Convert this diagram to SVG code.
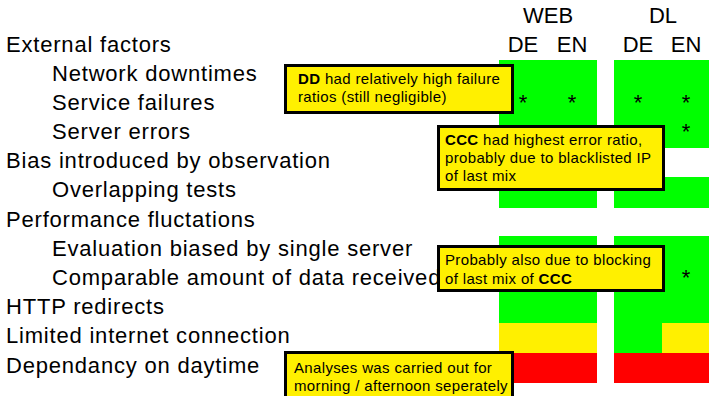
<svg xmlns="http://www.w3.org/2000/svg" width="709" height="396" viewBox="0 0 709 396">
  <style>
    .lbl { font-family: "Liberation Sans", Arial, sans-serif; font-size: 22px; fill: #000; letter-spacing: 0.8px; }
    .hdr { font-family: "Liberation Sans", Arial, sans-serif; font-size: 22px; fill: #000; text-anchor: middle; }
    .star { font-family: "Liberation Sans", Arial, sans-serif; font-size: 22px; fill: #000; text-anchor: middle; }
    .ok { fill: #00ff00; }
    .warn { fill: #fff000; }
    .bad { fill: #ff0000; }
    .note rect { fill: #fff000; stroke: #000; stroke-width: 3; }
    .note text { font-family: "Liberation Sans", Arial, sans-serif; font-size: 15px; fill: #000; letter-spacing: 0.35px; }
    .b { font-weight: bold; }
  </style>

  <rect width="709" height="396" fill="#fff"/>

  <!-- row labels -->
  <g id="labels" class="lbl">
    <text x="6" y="52">External factors</text>
    <text x="52" y="81">Network downtimes</text>
    <text x="52" y="110">Service failures</text>
    <text x="52" y="139">Server errors</text>
    <text x="6" y="168">Bias introduced by observation</text>
    <text x="52" y="197">Overlapping tests</text>
    <text x="6" y="227">Performance fluctations</text>
    <text x="52" y="256">Evaluation biased by single server</text>
    <text x="52" y="285">Comparable amount of data received</text>
    <text x="6" y="314">HTTP redirects</text>
    <text x="6" y="343">Limited internet connection</text>
    <text x="6" y="373">Dependancy on daytime</text>
  </g>

  <!-- column headers -->
  <g id="headers" class="hdr">
    <text x="548" y="23">WEB</text>
    <text x="663" y="23">DL</text>
    <text x="523" y="52">DE</text>
    <text x="572" y="52">EN</text>
    <text x="638" y="52">DE</text>
    <text x="686" y="52">EN</text>
  </g>

  <!-- WEB column block -->
  <g id="web-cells">
    <rect class="ok" x="499" y="60" width="98" height="88"/>
    <rect class="ok" x="499" y="177" width="98" height="31"/>
    <rect class="ok" x="499" y="236" width="98" height="87"/>
    <rect class="warn" x="499" y="323" width="98" height="30"/>
    <rect class="bad" x="499" y="353" width="98" height="30"/>
  </g>

  <!-- DL column block -->
  <g id="dl-cells">
    <rect class="ok" x="614" y="60" width="95" height="88"/>
    <rect class="ok" x="614" y="177" width="95" height="31"/>
    <rect class="ok" x="614" y="236" width="95" height="87"/>
    <rect class="ok" x="614" y="323" width="48" height="30"/>
    <rect class="warn" x="662" y="323" width="47" height="30"/>
    <rect class="bad" x="614" y="353" width="95" height="30"/>
  </g>

  <!-- marks -->
  <g id="marks" class="star">
    <text x="523" y="110">*</text>
    <text x="572" y="110">*</text>
    <text x="638" y="110">*</text>
    <text x="686" y="110">*</text>
    <text x="686" y="139">*</text>
    <text x="686" y="285">*</text>
  </g>

  <!-- callout notes -->
  <g id="note-dd" class="note">
    <rect x="285.5" y="65.5" width="227" height="47"/>
    <text x="298" y="83.5"><tspan class="b">DD</tspan> had relatively high failure</text>
    <text x="298" y="102">ratios (still negligible)</text>
  </g>

  <g id="note-ccc-errors" class="note">
    <rect x="438.5" y="126.5" width="225" height="63"/>
    <text x="445" y="145"><tspan class="b">CCC</tspan> had highest error ratio,</text>
    <text x="445" y="163">probably due to blacklisted IP</text>
    <text x="445" y="181">of last mix</text>
  </g>

  <g id="note-ccc-blocking" class="note">
    <rect x="438.5" y="246.5" width="225" height="44"/>
    <text x="445" y="265">Probably also due to blocking</text>
    <text x="445" y="284">of last mix of <tspan class="b">CCC</tspan></text>
  </g>

  <g id="note-daytime" class="note">
    <rect x="285.5" y="352.5" width="227" height="60"/>
    <text x="294" y="372.5">Analyses was carried out for</text>
    <text x="294" y="390.5">morning / afternoon seperately</text>
  </g>
</svg>
